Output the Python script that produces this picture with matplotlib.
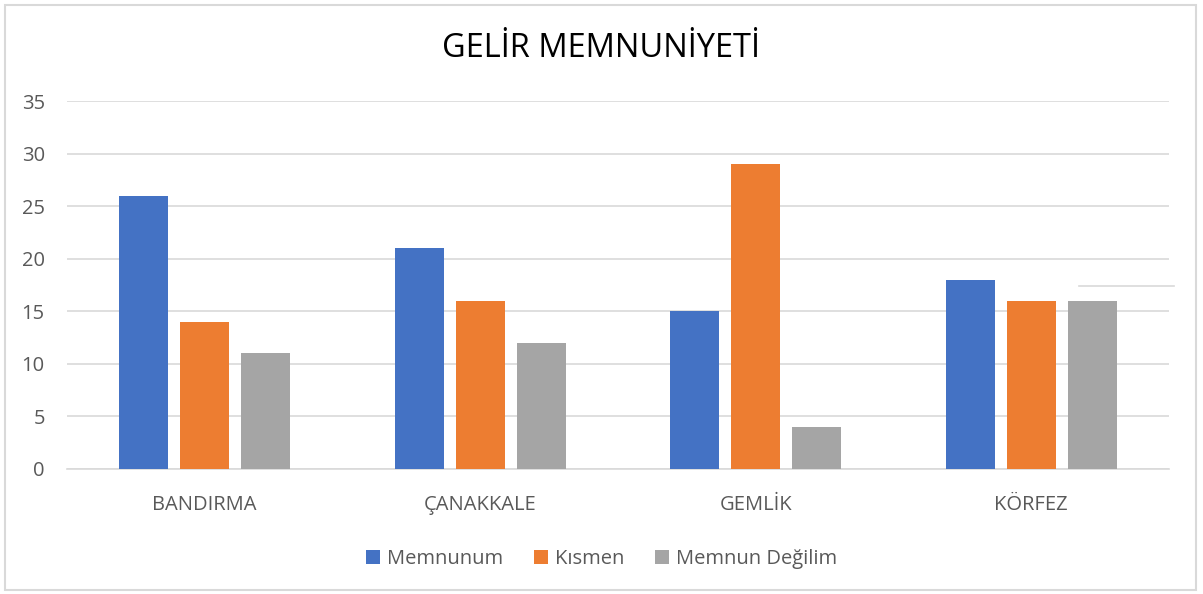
import numpy as np
import matplotlib
matplotlib.use("Agg")
import matplotlib.pyplot as plt
from matplotlib.patches import Rectangle
from matplotlib.lines import Line2D

# ===== DATA =====
categories = ['BANDIRMA', 'ÇANAKKALE', 'GEMLİK', 'KÖRFEZ']
memnunum = [26, 21, 15, 18]
kismen = [14, 16, 29, 16]
memnun_degilim = [11, 12, 4, 16]
series_names = ['Memnunum', 'Kısmen', 'Memnun Değilim']
colors = ['#4472C4', '#ED7D31', '#A5A5A5']
yticks = [0, 5, 10, 15, 20, 25, 30, 35]

plt.rcParams['font.family'] = ['Open Sans', 'DejaVu Sans']

fig = plt.figure(figsize=(12.03, 5.94), dpi=100)
ax = fig.add_axes([67 / 1203, 1 - 469 / 594, (1169 - 67) / 1203, (469 - 101) / 594])

x = np.arange(len(categories))
width = 0.178
step = 0.221
for i, (vals, name, c) in enumerate(zip([memnunum, kismen, memnun_degilim], series_names, colors)):
    ax.bar(x + (i - 1) * step, vals, width, color=c, label=name, zorder=3)

ax.set_xlim(-0.5, 3.5)
ax.set_ylim(0, 35)
ax.set_yticks(yticks)
ax.set_xticks(x)
ax.set_xticklabels(categories)
ax.tick_params(axis='both', length=0, labelsize=14.5, colors='#595959')
ax.tick_params(axis='x', pad=19)
ax.tick_params(axis='y', pad=16)
ax.grid(axis='y', color='#D9D9D9', linewidth=1.2, zorder=0)
for s in ['top', 'right', 'left']:
    ax.spines[s].set_visible(False)
ax.spines['bottom'].set_color('#D9D9D9')
ax.spines['bottom'].set_linewidth(1.2)

fig.text(0.5, 0.918, 'GELİR MEMNUNİYETİ', ha='center', va='center', fontsize=23.5, color='black')

fig.legend(loc='center', bbox_to_anchor=(0.5, 0.059), ncol=3, frameon=False,
           fontsize=14.5, labelcolor='#595959', handlelength=0.67, handleheight=0.67,
           handletextpad=0.35, columnspacing=1.55)

# chart border
fig.patches.append(Rectangle((0.004, 0.006), 0.99, 0.986, transform=fig.transFigure,
                             fill=False, edgecolor='#D9D9D9', linewidth=1.5))
# stray grid fragment
fig.lines.append(Line2D([1079 / 1203, 1174 / 1203], [1 - 286.5 / 594, 1 - 286.5 / 594],
                        transform=fig.transFigure, color='#D9D9D9', linewidth=1.2))

fig.savefig('out.png', dpi=100)
